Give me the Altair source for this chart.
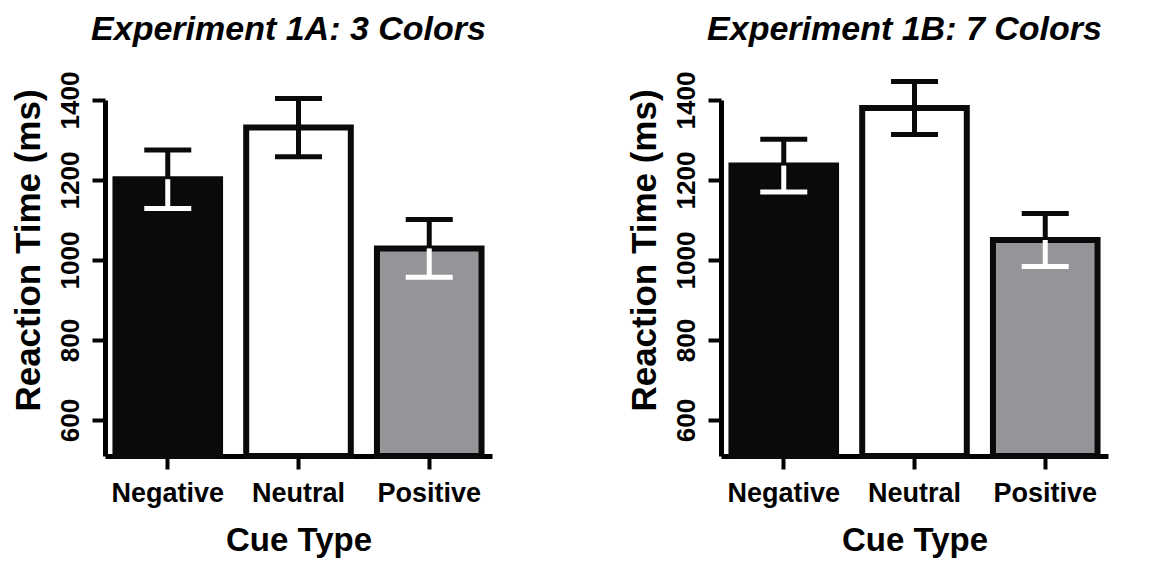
import altair as alt
import pandas as pd

cats = ["Negative", "Neutral", "Positive"]
means_1a = [1202, 1331, 1029]
se_1a = [73, 73, 72]
means_1b = [1236, 1380, 1050]
se_1b = [66, 66, 66]
fills = ["#0a0a0a", "#ffffff", "#939598"]
lower_colors = ["#ffffff", "#0a0a0a", "#ffffff"]
y_ticks = [600, 800, 1000, 1200, 1400]
y_min, y_max = 510, 1400

FONT = "Liberation Sans"


def panel(title, means, ses):
    bars = pd.DataFrame({"cue": cats, "mean": means, "base": [y_min] * 3, "fill": fills})
    rules = pd.DataFrame({
        "cue": cats + cats,
        "lo": [m for m in means] + [m - s for m, s in zip(means, ses)],
        "hi": [m + s for m, s in zip(means, ses)] + [m for m in means],
        "col": ["#0a0a0a"] * 3 + lower_colors,
    })
    caps = pd.DataFrame({
        "cue": cats + cats,
        "y": [m + s for m, s in zip(means, ses)] + [m - s for m, s in zip(means, ses)],
        "col": ["#0a0a0a"] * 3 + lower_colors,
    })
    xenc = alt.X(
        "cue:N", sort=cats,
        scale=alt.Scale(paddingInner=0.2, paddingOuter=0.08),
        axis=alt.Axis(
            title="Cue Type", labelAngle=0, labelFontSize=27, labelFont=FONT,
            labelFontWeight="bold", labelColor="black", labelPadding=11,
            titleFontSize=33, titleFont=FONT, titleFontWeight="bold",
            titleColor="black", titlePadding=18,
            tickSize=13, tickWidth=4, tickColor="black",
            domainWidth=5, domainColor="black",
        ),
    )
    yscale = alt.Scale(domain=[y_min, y_max], zero=False, nice=False)
    yaxis = alt.Axis(
        title="Reaction Time (ms)", values=y_ticks, format="d", labelAngle=270,
        labelAlign="center", labelBaseline="bottom", labelFontSize=26,
        labelFont=FONT, labelFontWeight="bold", labelColor="black",
        labelPadding=9, labelOverlap=False,
        titleFontSize=35, titleFont=FONT, titleFontWeight="bold",
        titleColor="black", titleAngle=270, titleBaseline="middle",
        titleAlign="center", titleX=-77, titleY=150,
        tickSize=13, tickWidth=4, tickColor="black",
        domainWidth=5, domainColor="black", grid=False,
    )
    b = alt.Chart(bars).mark_bar(stroke="#0a0a0a", strokeWidth=6).encode(
        x=xenc,
        y=alt.Y("mean:Q", scale=yscale, axis=yaxis),
        y2=alt.Y2("base:Q"),
        fill=alt.Fill("fill:N", scale=None),
    )
    r = alt.Chart(rules).mark_rule(strokeWidth=5, opacity=1).encode(
        x=alt.X("cue:N", sort=cats),
        y=alt.Y("lo:Q"),
        y2=alt.Y2("hi:Q"),
        color=alt.Color("col:N", scale=None),
    )
    c = alt.Chart(caps).mark_tick(size=47, thickness=5, opacity=1).encode(
        x=alt.X("cue:N", sort=cats),
        y=alt.Y("y:Q"),
        color=alt.Color("col:N", scale=None),
    )
    return alt.layer(b, r, c).properties(
        width=387, height=356,
        title=alt.TitleParams(
            text=title, fontSize=34, font=FONT, fontStyle="italic",
            fontWeight="bold", color="black", anchor="middle",
            frame="group", offset=24, dx=-10,
        ),
    )


chart = alt.hconcat(
    panel("Experiment 1A: 3 Colors", means_1a, se_1a),
    panel("Experiment 1B: 7 Colors", means_1b, se_1b),
    spacing=134,
).configure_view(stroke=None).properties(
    background="white",
    padding={"left": 2, "top": 5, "right": 5, "bottom": 5},
)

chart.save("out.html", embed_options={"renderer": "svg", "actions": False})
